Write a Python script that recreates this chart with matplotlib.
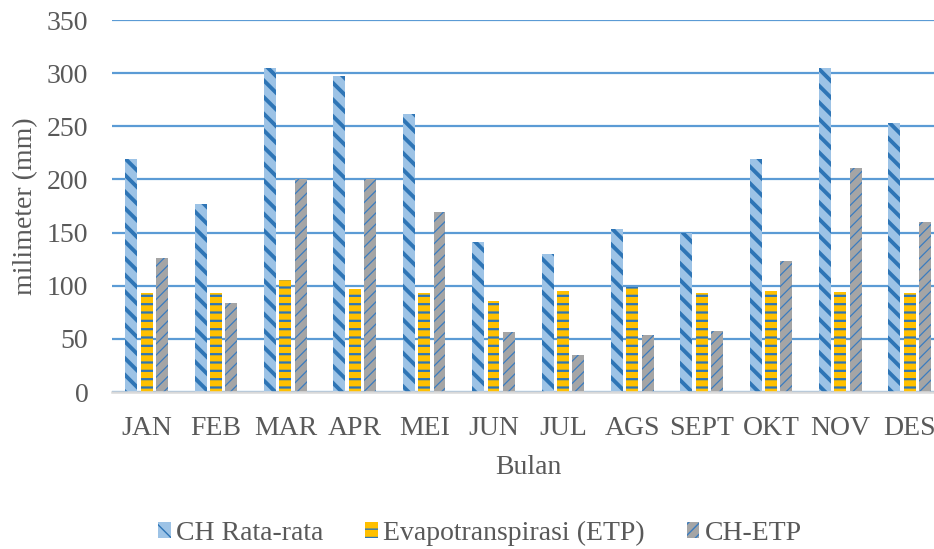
import matplotlib
matplotlib.use("Agg")
import matplotlib.pyplot as plt
import numpy as np

months = ["JAN", "FEB", "MAR", "APR", "MEI", "JUN", "JUL", "AGS", "SEPT", "OKT", "NOV", "DES"]
ch_rata = [219, 177, 305, 297, 262, 141, 130, 153, 150, 219, 305, 253]
etp = [93, 93, 105, 97, 93, 86, 95, 99, 93, 95, 94, 93]
ch_etp = [126, 84, 200, 200, 169, 56, 35, 54, 57, 123, 211, 160]
series_names = ["CH Rata-rata", "Evapotranspirasi (ETP)", "CH-ETP"]
yticks = [0, 50, 100, 150, 200, 250, 300, 350]

plt.rcParams["font.family"] = ["Liberation Serif", "DejaVu Serif"]
TXT = "#595959"

fig = plt.figure(figsize=(9.34, 5.49), dpi=100)
ax = fig.add_axes([112/934, 1-392/549, 832.4/934, 372/549])

x = np.arange(len(months))
w = 0.172
off = 0.221

styles = [
    dict(fc="#9DC3E6", ec="#2E75B6", hatch="\\\\", hlw=2.8),
    dict(fc="#FFC000", ec="#2E75B6", hatch="--", hlw=1.6),
    dict(fc="#A5A5A5", ec="#3A7CC0", hatch="///", hlw=0.9),
]
data = [ch_rata, etp, ch_etp]
handles = []
for i, (vals, st) in enumerate(zip(data, styles)):
    with plt.rc_context({"hatch.linewidth": st["hlw"]}):
        bars = ax.bar(x + (i-1)*off, vals, width=w, color=st["fc"], edgecolor=st["ec"],
                      hatch=st["hatch"], linewidth=0, label=series_names[i], zorder=3)
        for p in bars:
            if hasattr(p, "set_hatch_linewidth"):
                p.set_hatch_linewidth(st["hlw"])
    handles.append(bars)

ax.set_xlim(-0.5, len(months)-0.5)
ax.set_ylim(0, 350)
ax.set_yticks(yticks)
ax.set_xticks(x)
ax.set_xticklabels(months)
ax.tick_params(axis="both", length=0, labelsize=20, labelcolor=TXT)
ax.tick_params(axis="y", pad=17)
ax.tick_params(axis="x", pad=17)
ax.yaxis.grid(True, color="#5B9BD5", linewidth=1.6, zorder=0)
ax.set_axisbelow(True)
for s in ["top", "right", "left"]:
    ax.spines[s].set_visible(False)
ax.spines["bottom"].set_color("#D9D9D9")
ax.spines["bottom"].set_linewidth(1.8)
ax.spines["bottom"].set_zorder(4)

ax.set_ylabel("milimeter (mm)", fontsize=20, color=TXT, labelpad=6)
ax.set_xlabel("Bulan", fontsize=20, color=TXT, labelpad=10)

leg = fig.legend(handles=handles, labels=series_names, loc="center",
                 bbox_to_anchor=(480/934, 1-533/549), ncol=3, frameon=False,
                 fontsize=20, handlelength=0.45, handleheight=0.5, handletextpad=0.2,
                 columnspacing=1.5, labelcolor=TXT)

fig.savefig("out.png", dpi=100)
